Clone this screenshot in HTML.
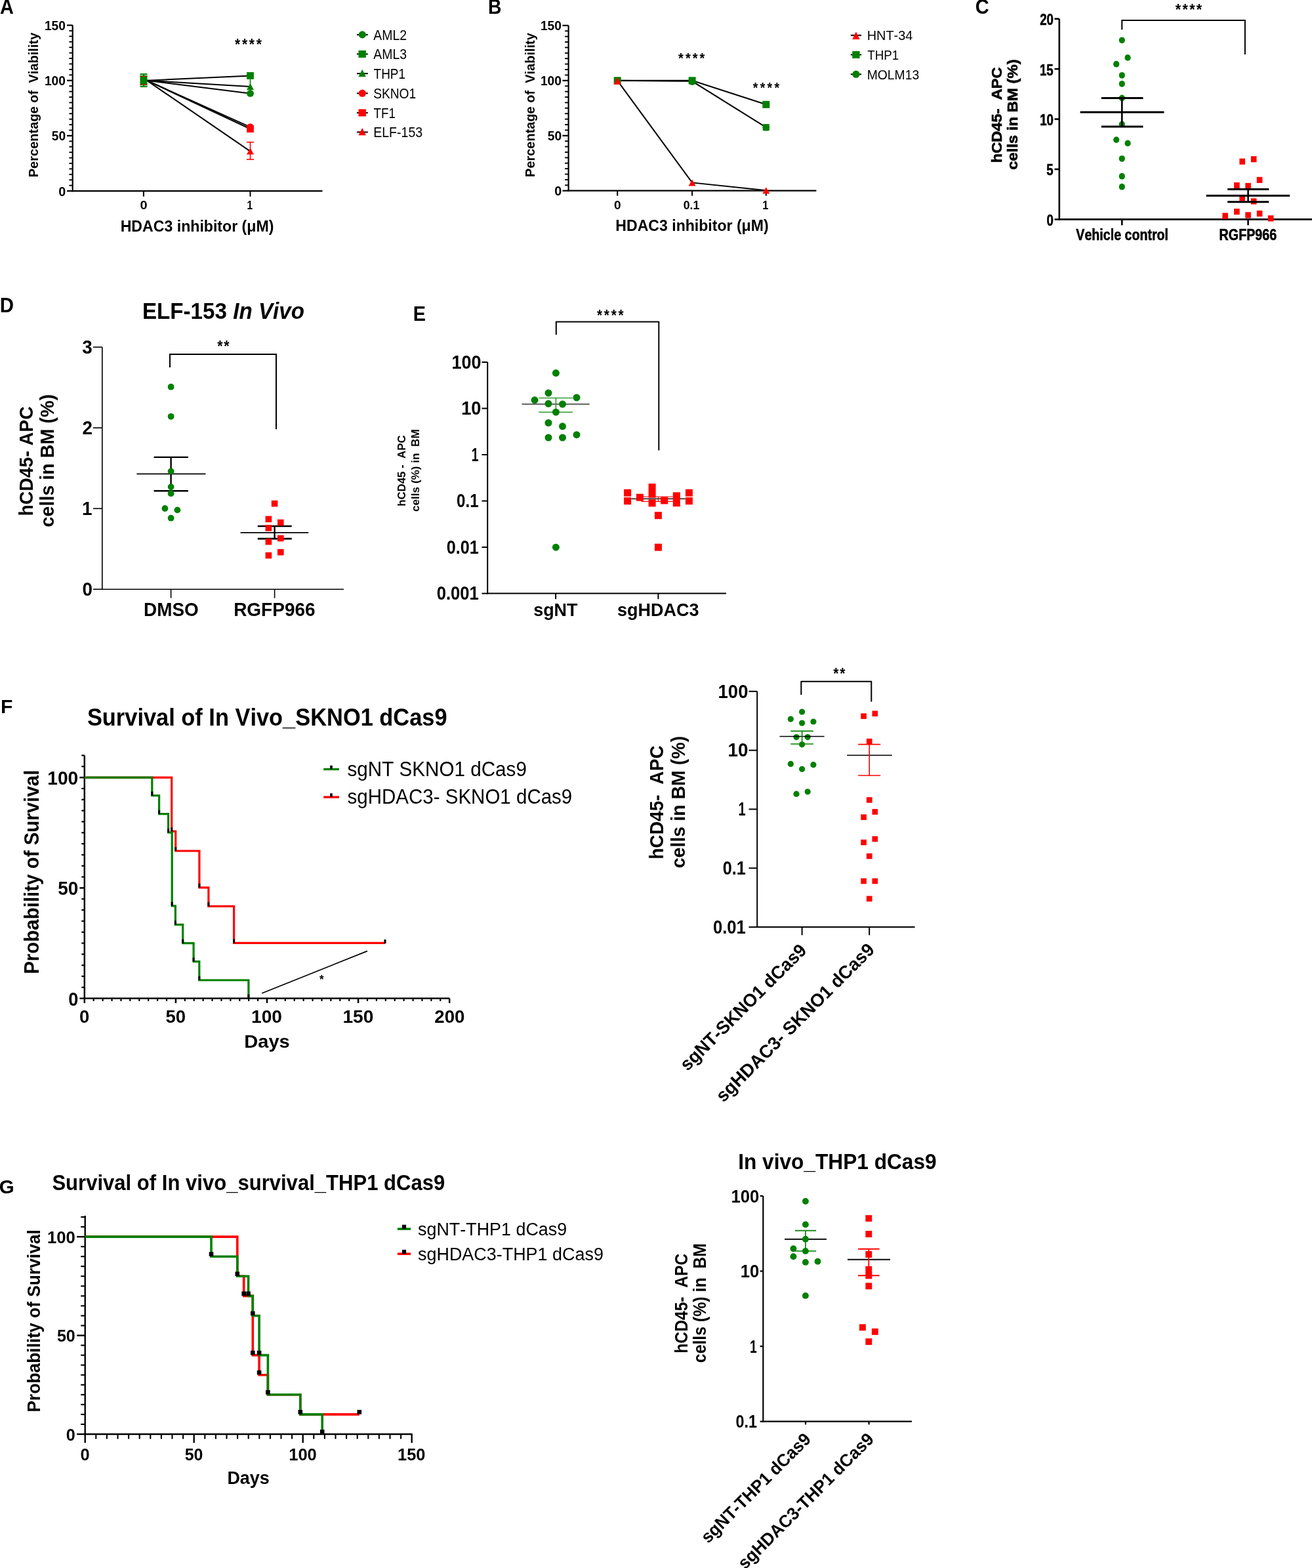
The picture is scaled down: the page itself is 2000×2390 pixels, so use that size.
<!DOCTYPE html>
<html><head><meta charset="utf-8"><title>Figure</title>
<style>html,body{margin:0;padding:0;background:#fff;}svg{display:block;}text{white-space:pre;font-family:"Liberation Sans",Arial,Helvetica,sans-serif;font-kerning:none;}</style>
</head><body>
<svg width="2000" height="2390" viewBox="0 0 2000 2390">
<rect width="2000" height="2390" fill="#fff"/>
<text x="-0.02" y="20.80" font-size="30.52" font-weight="bold" textLength="20.88" lengthAdjust="spacingAndGlyphs" fill="#000">A</text>
<line x1="110.70" y1="38.50" x2="110.70" y2="292.20" stroke="#000" stroke-width="2.2" stroke-linecap="butt"/>
<line x1="109.60" y1="291.10" x2="491.50" y2="291.10" stroke="#000" stroke-width="2.2" stroke-linecap="butt"/>
<line x1="102.00" y1="291.10" x2="110.70" y2="291.10" stroke="#000" stroke-width="2.2" stroke-linecap="butt"/>
<line x1="105.40" y1="282.68" x2="110.70" y2="282.68" stroke="#000" stroke-width="1.9" stroke-linecap="butt"/>
<line x1="105.40" y1="274.26" x2="110.70" y2="274.26" stroke="#000" stroke-width="1.9" stroke-linecap="butt"/>
<line x1="105.40" y1="265.84" x2="110.70" y2="265.84" stroke="#000" stroke-width="1.9" stroke-linecap="butt"/>
<line x1="105.40" y1="257.42" x2="110.70" y2="257.42" stroke="#000" stroke-width="1.9" stroke-linecap="butt"/>
<line x1="105.40" y1="249.00" x2="110.70" y2="249.00" stroke="#000" stroke-width="1.9" stroke-linecap="butt"/>
<line x1="105.40" y1="240.58" x2="110.70" y2="240.58" stroke="#000" stroke-width="1.9" stroke-linecap="butt"/>
<line x1="105.40" y1="232.16" x2="110.70" y2="232.16" stroke="#000" stroke-width="1.9" stroke-linecap="butt"/>
<line x1="105.40" y1="223.74" x2="110.70" y2="223.74" stroke="#000" stroke-width="1.9" stroke-linecap="butt"/>
<line x1="105.40" y1="215.32" x2="110.70" y2="215.32" stroke="#000" stroke-width="1.9" stroke-linecap="butt"/>
<line x1="102.00" y1="206.90" x2="110.70" y2="206.90" stroke="#000" stroke-width="2.2" stroke-linecap="butt"/>
<line x1="105.40" y1="198.48" x2="110.70" y2="198.48" stroke="#000" stroke-width="1.9" stroke-linecap="butt"/>
<line x1="105.40" y1="190.06" x2="110.70" y2="190.06" stroke="#000" stroke-width="1.9" stroke-linecap="butt"/>
<line x1="105.40" y1="181.64" x2="110.70" y2="181.64" stroke="#000" stroke-width="1.9" stroke-linecap="butt"/>
<line x1="105.40" y1="173.22" x2="110.70" y2="173.22" stroke="#000" stroke-width="1.9" stroke-linecap="butt"/>
<line x1="105.40" y1="164.80" x2="110.70" y2="164.80" stroke="#000" stroke-width="1.9" stroke-linecap="butt"/>
<line x1="105.40" y1="156.38" x2="110.70" y2="156.38" stroke="#000" stroke-width="1.9" stroke-linecap="butt"/>
<line x1="105.40" y1="147.96" x2="110.70" y2="147.96" stroke="#000" stroke-width="1.9" stroke-linecap="butt"/>
<line x1="105.40" y1="139.54" x2="110.70" y2="139.54" stroke="#000" stroke-width="1.9" stroke-linecap="butt"/>
<line x1="105.40" y1="131.12" x2="110.70" y2="131.12" stroke="#000" stroke-width="1.9" stroke-linecap="butt"/>
<line x1="102.00" y1="122.70" x2="110.70" y2="122.70" stroke="#000" stroke-width="2.2" stroke-linecap="butt"/>
<line x1="105.40" y1="114.28" x2="110.70" y2="114.28" stroke="#000" stroke-width="1.9" stroke-linecap="butt"/>
<line x1="105.40" y1="105.86" x2="110.70" y2="105.86" stroke="#000" stroke-width="1.9" stroke-linecap="butt"/>
<line x1="105.40" y1="97.44" x2="110.70" y2="97.44" stroke="#000" stroke-width="1.9" stroke-linecap="butt"/>
<line x1="105.40" y1="89.02" x2="110.70" y2="89.02" stroke="#000" stroke-width="1.9" stroke-linecap="butt"/>
<line x1="105.40" y1="80.60" x2="110.70" y2="80.60" stroke="#000" stroke-width="1.9" stroke-linecap="butt"/>
<line x1="105.40" y1="72.18" x2="110.70" y2="72.18" stroke="#000" stroke-width="1.9" stroke-linecap="butt"/>
<line x1="105.40" y1="63.76" x2="110.70" y2="63.76" stroke="#000" stroke-width="1.9" stroke-linecap="butt"/>
<line x1="105.40" y1="55.34" x2="110.70" y2="55.34" stroke="#000" stroke-width="1.9" stroke-linecap="butt"/>
<line x1="105.40" y1="46.92" x2="110.70" y2="46.92" stroke="#000" stroke-width="1.9" stroke-linecap="butt"/>
<line x1="102.00" y1="38.50" x2="110.70" y2="38.50" stroke="#000" stroke-width="2.2" stroke-linecap="butt"/>
<text x="89.22" y="298.60" font-size="20.49" font-weight="bold" textLength="10.99" lengthAdjust="spacingAndGlyphs" fill="#000">0</text>
<text x="78.81" y="214.40" font-size="20.49" font-weight="bold" textLength="21.38" lengthAdjust="spacingAndGlyphs" fill="#000">50</text>
<text x="67.89" y="130.20" font-size="20.49" font-weight="bold" textLength="31.99" lengthAdjust="spacingAndGlyphs" fill="#000">100</text>
<text x="67.89" y="46.00" font-size="20.49" font-weight="bold" textLength="31.99" lengthAdjust="spacingAndGlyphs" fill="#000">150</text>
<line x1="218.90" y1="291.10" x2="218.90" y2="299.60" stroke="#000" stroke-width="2" stroke-linecap="butt"/>
<line x1="381.50" y1="291.10" x2="381.50" y2="299.60" stroke="#000" stroke-width="2" stroke-linecap="butt"/>
<text x="213.41" y="319.20" font-size="18.75" font-weight="bold" textLength="11.11" lengthAdjust="spacingAndGlyphs" fill="#000">0</text>
<text x="376.43" y="319.20" font-size="18.75" font-weight="bold" textLength="8.61" lengthAdjust="spacingAndGlyphs" fill="#000">1</text>
<text x="183.65" y="353.10" font-size="24.27" font-weight="bold" textLength="233.80" lengthAdjust="spacingAndGlyphs" fill="#000">HDAC3 inhibitor (μM)</text>
<text x="-270.34" y="58.30" font-size="20.64" font-weight="bold" textLength="220.65" lengthAdjust="spacingAndGlyphs" fill="#000" transform="rotate(-90)">Percentage of  Viability</text>
<line x1="223.90" y1="122.70" x2="381.50" y2="115.40" stroke="#000" stroke-width="2" stroke-linecap="butt"/>
<line x1="223.90" y1="122.70" x2="381.50" y2="132.00" stroke="#000" stroke-width="2" stroke-linecap="butt"/>
<line x1="223.90" y1="122.70" x2="381.50" y2="142.40" stroke="#000" stroke-width="2" stroke-linecap="butt"/>
<line x1="223.90" y1="122.70" x2="381.50" y2="193.60" stroke="#000" stroke-width="2" stroke-linecap="butt"/>
<line x1="223.90" y1="122.70" x2="381.50" y2="196.50" stroke="#000" stroke-width="2" stroke-linecap="butt"/>
<line x1="223.90" y1="122.70" x2="381.50" y2="230.60" stroke="#000" stroke-width="2" stroke-linecap="butt"/>
<rect x="213.50" y="112.00" width="11.00" height="21.00" fill="#008000"/>
<line x1="213.50" y1="114.50" x2="218.10" y2="114.50" stroke="#fff" stroke-width="0.9" stroke-linecap="butt"/>
<line x1="220.10" y1="114.50" x2="224.50" y2="114.50" stroke="#fff" stroke-width="0.9" stroke-linecap="butt"/>
<line x1="213.50" y1="130.60" x2="218.10" y2="130.60" stroke="#fff" stroke-width="0.9" stroke-linecap="butt"/>
<line x1="220.10" y1="130.60" x2="224.50" y2="130.60" stroke="#fff" stroke-width="0.9" stroke-linecap="butt"/>
<line x1="213.50" y1="116.50" x2="218.10" y2="116.50" stroke="#ff0000" stroke-width="1.1" stroke-linecap="butt"/>
<line x1="220.10" y1="116.50" x2="224.50" y2="116.50" stroke="#ff0000" stroke-width="1.1" stroke-linecap="butt"/>
<line x1="213.50" y1="128.60" x2="218.10" y2="128.60" stroke="#ff0000" stroke-width="1.1" stroke-linecap="butt"/>
<line x1="220.10" y1="128.60" x2="224.50" y2="128.60" stroke="#ff0000" stroke-width="1.1" stroke-linecap="butt"/>
<line x1="381.50" y1="216.70" x2="381.50" y2="243.00" stroke="#ff0000" stroke-width="1.6" stroke-linecap="butt"/>
<line x1="376.00" y1="216.70" x2="387.00" y2="216.70" stroke="#ff0000" stroke-width="1.6" stroke-linecap="butt"/>
<line x1="376.00" y1="243.00" x2="387.00" y2="243.00" stroke="#ff0000" stroke-width="1.6" stroke-linecap="butt"/>
<line x1="381.50" y1="121.00" x2="381.50" y2="136.00" stroke="#008000" stroke-width="1.6" stroke-linecap="butt"/>
<rect x="376.10" y="110.00" width="10.80" height="10.80" fill="#008000"/>
<polygon points="376.00,137.00 387.00,137.00 381.50,127.00" fill="#008000"/>
<circle cx="381.50" cy="142.40" r="5.40" fill="#008000"/>
<circle cx="381.50" cy="193.60" r="5.40" fill="#ff0000"/>
<rect x="376.10" y="191.10" width="10.80" height="10.80" fill="#ff0000"/>
<polygon points="376.00,235.60 387.00,235.60 381.50,225.60" fill="#ff0000"/>
<text x="358.04" y="76.19" font-size="23.39" font-weight="bold" textLength="8.17" lengthAdjust="spacingAndGlyphs" fill="#000">*</text>
<text x="368.91" y="76.19" font-size="23.39" font-weight="bold" textLength="8.17" lengthAdjust="spacingAndGlyphs" fill="#000">*</text>
<text x="379.78" y="76.19" font-size="23.39" font-weight="bold" textLength="8.17" lengthAdjust="spacingAndGlyphs" fill="#000">*</text>
<text x="390.65" y="76.19" font-size="23.39" font-weight="bold" textLength="8.17" lengthAdjust="spacingAndGlyphs" fill="#000">*</text>
<line x1="544.00" y1="52.90" x2="560.80" y2="52.90" stroke="#000" stroke-width="2" stroke-linecap="butt"/>
<circle cx="552.30" cy="52.90" r="5.60" fill="#008000"/>
<text x="569.36" y="60.70" font-size="21.51" textLength="50.82" lengthAdjust="spacingAndGlyphs" fill="#000">AML2</text>
<line x1="544.00" y1="82.40" x2="560.80" y2="82.40" stroke="#000" stroke-width="2" stroke-linecap="butt"/>
<rect x="546.50" y="76.90" width="11.40" height="11.00" fill="#008000"/>
<text x="569.36" y="90.20" font-size="21.51" textLength="50.69" lengthAdjust="spacingAndGlyphs" fill="#000">AML3</text>
<line x1="544.00" y1="112.10" x2="560.80" y2="112.10" stroke="#000" stroke-width="2" stroke-linecap="butt"/>
<polygon points="546.50,116.90 557.90,116.90 552.20,105.70" fill="#008000"/>
<text x="569.57" y="119.90" font-size="21.51" textLength="48.45" lengthAdjust="spacingAndGlyphs" fill="#000">THP1</text>
<line x1="544.00" y1="142.20" x2="560.80" y2="142.20" stroke="#000" stroke-width="2" stroke-linecap="butt"/>
<circle cx="552.30" cy="142.20" r="5.60" fill="#ff0000"/>
<text x="569.13" y="150.00" font-size="21.51" textLength="65.11" lengthAdjust="spacingAndGlyphs" fill="#000">SKNO1</text>
<line x1="544.00" y1="171.90" x2="560.80" y2="171.90" stroke="#000" stroke-width="2" stroke-linecap="butt"/>
<rect x="546.50" y="166.40" width="11.40" height="11.00" fill="#ff0000"/>
<text x="569.58" y="179.70" font-size="21.51" textLength="33.23" lengthAdjust="spacingAndGlyphs" fill="#000">TF1</text>
<line x1="544.00" y1="201.40" x2="560.80" y2="201.40" stroke="#000" stroke-width="2" stroke-linecap="butt"/>
<polygon points="546.50,206.20 557.90,206.20 552.20,195.00" fill="#ff0000"/>
<text x="569.20" y="209.20" font-size="21.51" textLength="74.96" lengthAdjust="spacingAndGlyphs" fill="#000">ELF-153</text>
<text x="743.90" y="21.00" font-size="30.52" font-weight="bold" textLength="20.49" lengthAdjust="spacingAndGlyphs" fill="#000">B</text>
<line x1="866.60" y1="38.85" x2="866.60" y2="291.80" stroke="#000" stroke-width="2.2" stroke-linecap="butt"/>
<line x1="865.50" y1="290.70" x2="1244.40" y2="290.70" stroke="#000" stroke-width="2.2" stroke-linecap="butt"/>
<line x1="857.40" y1="290.70" x2="866.60" y2="290.70" stroke="#000" stroke-width="2.2" stroke-linecap="butt"/>
<line x1="861.10" y1="282.31" x2="866.60" y2="282.31" stroke="#000" stroke-width="1.9" stroke-linecap="butt"/>
<line x1="861.10" y1="273.91" x2="866.60" y2="273.91" stroke="#000" stroke-width="1.9" stroke-linecap="butt"/>
<line x1="861.10" y1="265.51" x2="866.60" y2="265.51" stroke="#000" stroke-width="1.9" stroke-linecap="butt"/>
<line x1="861.10" y1="257.12" x2="866.60" y2="257.12" stroke="#000" stroke-width="1.9" stroke-linecap="butt"/>
<line x1="861.10" y1="248.72" x2="866.60" y2="248.72" stroke="#000" stroke-width="1.9" stroke-linecap="butt"/>
<line x1="861.10" y1="240.33" x2="866.60" y2="240.33" stroke="#000" stroke-width="1.9" stroke-linecap="butt"/>
<line x1="861.10" y1="231.94" x2="866.60" y2="231.94" stroke="#000" stroke-width="1.9" stroke-linecap="butt"/>
<line x1="861.10" y1="223.54" x2="866.60" y2="223.54" stroke="#000" stroke-width="1.9" stroke-linecap="butt"/>
<line x1="861.10" y1="215.14" x2="866.60" y2="215.14" stroke="#000" stroke-width="1.9" stroke-linecap="butt"/>
<line x1="857.40" y1="206.75" x2="866.60" y2="206.75" stroke="#000" stroke-width="2.2" stroke-linecap="butt"/>
<line x1="861.10" y1="198.35" x2="866.60" y2="198.35" stroke="#000" stroke-width="1.9" stroke-linecap="butt"/>
<line x1="861.10" y1="189.96" x2="866.60" y2="189.96" stroke="#000" stroke-width="1.9" stroke-linecap="butt"/>
<line x1="861.10" y1="181.56" x2="866.60" y2="181.56" stroke="#000" stroke-width="1.9" stroke-linecap="butt"/>
<line x1="861.10" y1="173.17" x2="866.60" y2="173.17" stroke="#000" stroke-width="1.9" stroke-linecap="butt"/>
<line x1="861.10" y1="164.77" x2="866.60" y2="164.77" stroke="#000" stroke-width="1.9" stroke-linecap="butt"/>
<line x1="861.10" y1="156.38" x2="866.60" y2="156.38" stroke="#000" stroke-width="1.9" stroke-linecap="butt"/>
<line x1="861.10" y1="147.98" x2="866.60" y2="147.98" stroke="#000" stroke-width="1.9" stroke-linecap="butt"/>
<line x1="861.10" y1="139.59" x2="866.60" y2="139.59" stroke="#000" stroke-width="1.9" stroke-linecap="butt"/>
<line x1="861.10" y1="131.19" x2="866.60" y2="131.19" stroke="#000" stroke-width="1.9" stroke-linecap="butt"/>
<line x1="857.40" y1="122.80" x2="866.60" y2="122.80" stroke="#000" stroke-width="2.2" stroke-linecap="butt"/>
<line x1="861.10" y1="114.40" x2="866.60" y2="114.40" stroke="#000" stroke-width="1.9" stroke-linecap="butt"/>
<line x1="861.10" y1="106.01" x2="866.60" y2="106.01" stroke="#000" stroke-width="1.9" stroke-linecap="butt"/>
<line x1="861.10" y1="97.61" x2="866.60" y2="97.61" stroke="#000" stroke-width="1.9" stroke-linecap="butt"/>
<line x1="861.10" y1="89.22" x2="866.60" y2="89.22" stroke="#000" stroke-width="1.9" stroke-linecap="butt"/>
<line x1="861.10" y1="80.82" x2="866.60" y2="80.82" stroke="#000" stroke-width="1.9" stroke-linecap="butt"/>
<line x1="861.10" y1="72.43" x2="866.60" y2="72.43" stroke="#000" stroke-width="1.9" stroke-linecap="butt"/>
<line x1="861.10" y1="64.03" x2="866.60" y2="64.03" stroke="#000" stroke-width="1.9" stroke-linecap="butt"/>
<line x1="861.10" y1="55.64" x2="866.60" y2="55.64" stroke="#000" stroke-width="1.9" stroke-linecap="butt"/>
<line x1="861.10" y1="47.24" x2="866.60" y2="47.24" stroke="#000" stroke-width="1.9" stroke-linecap="butt"/>
<line x1="857.40" y1="38.85" x2="866.60" y2="38.85" stroke="#000" stroke-width="2.2" stroke-linecap="butt"/>
<text x="845.22" y="298.00" font-size="20.35" font-weight="bold" textLength="10.99" lengthAdjust="spacingAndGlyphs" fill="#000">0</text>
<text x="834.81" y="214.05" font-size="20.35" font-weight="bold" textLength="21.38" lengthAdjust="spacingAndGlyphs" fill="#000">50</text>
<text x="823.89" y="130.10" font-size="20.35" font-weight="bold" textLength="31.99" lengthAdjust="spacingAndGlyphs" fill="#000">100</text>
<text x="823.89" y="46.15" font-size="20.35" font-weight="bold" textLength="31.99" lengthAdjust="spacingAndGlyphs" fill="#000">150</text>
<line x1="941.20" y1="290.70" x2="941.20" y2="298.50" stroke="#000" stroke-width="2" stroke-linecap="butt"/>
<line x1="1055.10" y1="290.70" x2="1055.10" y2="298.50" stroke="#000" stroke-width="2" stroke-linecap="butt"/>
<line x1="1167.80" y1="290.70" x2="1167.80" y2="298.50" stroke="#000" stroke-width="2" stroke-linecap="butt"/>
<text x="935.94" y="318.50" font-size="19.04" font-weight="bold" textLength="10.64" lengthAdjust="spacingAndGlyphs" fill="#000">0</text>
<text x="1041.70" y="318.50" font-size="19.04" font-weight="bold" textLength="24.59" lengthAdjust="spacingAndGlyphs" fill="#000">0.1</text>
<text x="1162.26" y="318.50" font-size="19.04" font-weight="bold" textLength="9.20" lengthAdjust="spacingAndGlyphs" fill="#000">1</text>
<text x="938.36" y="351.80" font-size="23.84" font-weight="bold" textLength="233.29" lengthAdjust="spacingAndGlyphs" fill="#000">HDAC3 inhibitor (μM)</text>
<text x="-269.94" y="815.40" font-size="20.78" font-weight="bold" textLength="219.74" lengthAdjust="spacingAndGlyphs" fill="#000" transform="rotate(-90)">Percentage of  Viability</text>
<path d="M941.2,122.79999999999998 L1055.1,122.79999999999998 L1167.8,159.3" stroke="#000" stroke-width="2" fill="none" stroke-linejoin="miter" stroke-linecap="butt"/>
<path d="M941.2,122.79999999999998 L1055.1,123.79999999999998 L1167.8,194.2" stroke="#000" stroke-width="2" fill="none" stroke-linejoin="miter" stroke-linecap="butt"/>
<path d="M941.2,122.79999999999998 L1055.1,278.4 L1167.8,290.3" stroke="#000" stroke-width="2" fill="none" stroke-linejoin="miter" stroke-linecap="butt"/>
<rect x="935.70" y="117.30" width="11.00" height="11.00" fill="#008000"/>
<polygon points="935.70,128.70 946.70,128.70 941.20,117.50" fill="#ff0000"/>
<rect x="1049.60" y="117.30" width="11.00" height="11.00" fill="#008000"/>
<circle cx="1055.10" cy="124.30" r="5.50" fill="#008000"/>
<polygon points="1049.60,283.40 1060.60,283.40 1055.10,273.40" fill="#ff0000"/>
<rect x="1162.30" y="153.80" width="11.00" height="11.00" fill="#008000"/>
<rect x="1162.80" y="189.20" width="10.00" height="10.00" fill="#008000"/>
<circle cx="1167.80" cy="194.20" r="5.30" fill="#008000"/>
<polygon points="1162.30,295.30 1173.30,295.30 1167.80,285.30" fill="#ff0000"/>
<text x="1034.04" y="96.15" font-size="22.31" font-weight="bold" textLength="7.80" lengthAdjust="spacingAndGlyphs" fill="#000">*</text>
<text x="1044.90" y="96.15" font-size="22.31" font-weight="bold" textLength="7.80" lengthAdjust="spacingAndGlyphs" fill="#000">*</text>
<text x="1055.76" y="96.15" font-size="22.31" font-weight="bold" textLength="7.80" lengthAdjust="spacingAndGlyphs" fill="#000">*</text>
<text x="1066.62" y="96.15" font-size="22.31" font-weight="bold" textLength="7.80" lengthAdjust="spacingAndGlyphs" fill="#000">*</text>
<text x="1147.84" y="140.78" font-size="21.77" font-weight="bold" textLength="7.61" lengthAdjust="spacingAndGlyphs" fill="#000">*</text>
<text x="1158.70" y="140.78" font-size="21.77" font-weight="bold" textLength="7.61" lengthAdjust="spacingAndGlyphs" fill="#000">*</text>
<text x="1169.55" y="140.78" font-size="21.77" font-weight="bold" textLength="7.61" lengthAdjust="spacingAndGlyphs" fill="#000">*</text>
<text x="1180.41" y="140.78" font-size="21.77" font-weight="bold" textLength="7.61" lengthAdjust="spacingAndGlyphs" fill="#000">*</text>
<line x1="1296.80" y1="53.80" x2="1313.10" y2="53.80" stroke="#000" stroke-width="2" stroke-linecap="butt"/>
<polygon points="1299.25,59.90 1310.55,59.90 1304.90,48.30" fill="#ff0000"/>
<text x="1321.67" y="61.20" font-size="21.08" textLength="69.72" lengthAdjust="spacingAndGlyphs" fill="#000">HNT-34</text>
<line x1="1296.80" y1="83.40" x2="1313.10" y2="83.40" stroke="#000" stroke-width="2" stroke-linecap="butt"/>
<rect x="1299.25" y="77.90" width="11.30" height="11.00" fill="#008000"/>
<text x="1322.18" y="90.80" font-size="21.08" textLength="47.94" lengthAdjust="spacingAndGlyphs" fill="#000">THP1</text>
<line x1="1296.80" y1="113.20" x2="1313.10" y2="113.20" stroke="#000" stroke-width="2" stroke-linecap="butt"/>
<circle cx="1304.90" cy="113.20" r="5.60" fill="#008000"/>
<text x="1321.72" y="120.60" font-size="21.08" textLength="79.43" lengthAdjust="spacingAndGlyphs" fill="#000">MOLM13</text>
<text x="1486.81" y="21.30" font-size="30.96" font-weight="bold" textLength="20.99" lengthAdjust="spacingAndGlyphs" fill="#000">C</text>
<line x1="1614.80" y1="28.70" x2="1614.80" y2="335.60" stroke="#000" stroke-width="2.6" stroke-linecap="butt"/>
<line x1="1613.60" y1="334.40" x2="2000.00" y2="334.40" stroke="#000" stroke-width="2.6" stroke-linecap="butt"/>
<line x1="1607.50" y1="334.40" x2="1614.80" y2="334.40" stroke="#000" stroke-width="2.6" stroke-linecap="butt"/>
<line x1="1607.50" y1="257.97" x2="1614.80" y2="257.97" stroke="#000" stroke-width="2.6" stroke-linecap="butt"/>
<line x1="1607.50" y1="181.55" x2="1614.80" y2="181.55" stroke="#000" stroke-width="2.6" stroke-linecap="butt"/>
<line x1="1607.50" y1="105.12" x2="1614.80" y2="105.12" stroke="#000" stroke-width="2.6" stroke-linecap="butt"/>
<line x1="1607.50" y1="28.70" x2="1614.80" y2="28.70" stroke="#000" stroke-width="2.6" stroke-linecap="butt"/>
<text x="1595.56" y="343.80" font-size="23.98" font-weight="bold" textLength="10.40" lengthAdjust="spacingAndGlyphs" fill="#000" stroke="#000" stroke-width="0.6">0</text>
<text x="1595.32" y="267.37" font-size="23.98" font-weight="bold" textLength="10.40" lengthAdjust="spacingAndGlyphs" fill="#000" stroke="#000" stroke-width="0.6">5</text>
<text x="1585.16" y="190.95" font-size="23.98" font-weight="bold" textLength="20.81" lengthAdjust="spacingAndGlyphs" fill="#000" stroke="#000" stroke-width="0.6">10</text>
<text x="1584.91" y="114.52" font-size="23.98" font-weight="bold" textLength="20.81" lengthAdjust="spacingAndGlyphs" fill="#000" stroke="#000" stroke-width="0.6">15</text>
<text x="1585.16" y="38.10" font-size="23.98" font-weight="bold" textLength="20.81" lengthAdjust="spacingAndGlyphs" fill="#000" stroke="#000" stroke-width="0.6">20</text>
<line x1="1710.30" y1="334.40" x2="1710.30" y2="343.30" stroke="#000" stroke-width="2.6" stroke-linecap="butt"/>
<line x1="1902.60" y1="334.40" x2="1902.60" y2="343.30" stroke="#000" stroke-width="2.6" stroke-linecap="butt"/>
<text x="1640.37" y="366.00" font-size="24.56" font-weight="bold" textLength="140.62" lengthAdjust="spacingAndGlyphs" fill="#000" stroke="#000" stroke-width="0.6">Vehicle control</text>
<text x="1858.58" y="366.00" font-size="24.56" font-weight="bold" textLength="87.63" lengthAdjust="spacingAndGlyphs" fill="#000" stroke="#000" stroke-width="0.6">RGFP966</text>
<text x="-248.25" y="1527.00" font-size="22.09" font-weight="bold" textLength="145.90" lengthAdjust="spacingAndGlyphs" fill="#000" transform="rotate(-90)" stroke="#000" stroke-width="0.6">hCD45-  APC</text>
<text x="-258.73" y="1551.00" font-size="22.09" font-weight="bold" textLength="168.32" lengthAdjust="spacingAndGlyphs" fill="#000" transform="rotate(-90)" stroke="#000" stroke-width="0.6">cells in BM (%)</text>
<path d="M1710.3,45.3 V30.9 H1897.9 V82.9" stroke="#000" stroke-width="2" fill="none" stroke-linejoin="miter" stroke-linecap="butt"/>
<text x="1791.74" y="22.66" font-size="23.92" font-weight="bold" textLength="8.36" lengthAdjust="spacingAndGlyphs" fill="#000">*</text>
<text x="1802.44" y="22.66" font-size="23.92" font-weight="bold" textLength="8.36" lengthAdjust="spacingAndGlyphs" fill="#000">*</text>
<text x="1813.15" y="22.66" font-size="23.92" font-weight="bold" textLength="8.36" lengthAdjust="spacingAndGlyphs" fill="#000">*</text>
<text x="1823.86" y="22.66" font-size="23.92" font-weight="bold" textLength="8.36" lengthAdjust="spacingAndGlyphs" fill="#000">*</text>
<ellipse cx="1710.30" cy="61.30" rx="4.60" ry="4.90" fill="#008000"/>
<ellipse cx="1719.10" cy="87.90" rx="4.60" ry="4.90" fill="#008000"/>
<ellipse cx="1701.70" cy="97.70" rx="4.60" ry="4.90" fill="#008000"/>
<ellipse cx="1710.30" cy="114.80" rx="4.60" ry="4.90" fill="#008000"/>
<ellipse cx="1710.30" cy="127.80" rx="4.60" ry="4.90" fill="#008000"/>
<ellipse cx="1710.30" cy="149.50" rx="4.60" ry="4.90" fill="#008000"/>
<ellipse cx="1710.30" cy="189.40" rx="4.60" ry="4.90" fill="#008000"/>
<ellipse cx="1701.70" cy="213.10" rx="4.60" ry="4.90" fill="#008000"/>
<ellipse cx="1719.10" cy="218.40" rx="4.60" ry="4.90" fill="#008000"/>
<ellipse cx="1710.30" cy="241.80" rx="4.60" ry="4.90" fill="#008000"/>
<ellipse cx="1710.30" cy="268.70" rx="4.60" ry="4.90" fill="#008000"/>
<ellipse cx="1710.30" cy="284.70" rx="4.60" ry="4.90" fill="#008000"/>
<rect x="1889.40" y="241.60" width="8.60" height="9.20" fill="#ff0000"/>
<rect x="1906.90" y="238.10" width="8.60" height="9.20" fill="#ff0000"/>
<rect x="1915.80" y="269.70" width="8.60" height="9.20" fill="#ff0000"/>
<rect x="1881.10" y="278.00" width="8.60" height="9.20" fill="#ff0000"/>
<rect x="1898.30" y="278.90" width="8.60" height="9.20" fill="#ff0000"/>
<rect x="1889.40" y="297.30" width="8.60" height="9.20" fill="#ff0000"/>
<rect x="1906.90" y="302.30" width="8.60" height="9.20" fill="#ff0000"/>
<rect x="1881.10" y="318.00" width="8.60" height="9.20" fill="#ff0000"/>
<rect x="1863.40" y="324.50" width="8.60" height="9.20" fill="#ff0000"/>
<rect x="1898.30" y="323.30" width="8.60" height="9.20" fill="#ff0000"/>
<rect x="1915.80" y="320.90" width="8.60" height="9.20" fill="#ff0000"/>
<rect x="1932.90" y="328.30" width="8.60" height="9.20" fill="#ff0000"/>
<line x1="1646.60" y1="171.00" x2="1774.50" y2="171.00" stroke="#000" stroke-width="3" stroke-linecap="butt"/>
<line x1="1678.90" y1="149.50" x2="1742.50" y2="149.50" stroke="#000" stroke-width="3" stroke-linecap="butt"/>
<line x1="1678.90" y1="193.00" x2="1742.50" y2="193.00" stroke="#000" stroke-width="3" stroke-linecap="butt"/>
<line x1="1710.30" y1="149.50" x2="1710.30" y2="193.00" stroke="#000" stroke-width="2.6" stroke-linecap="butt"/>
<line x1="1838.70" y1="298.30" x2="1966.20" y2="298.30" stroke="#000" stroke-width="3" stroke-linecap="butt"/>
<line x1="1871.20" y1="288.50" x2="1934.30" y2="288.50" stroke="#000" stroke-width="3" stroke-linecap="butt"/>
<line x1="1871.20" y1="307.80" x2="1934.30" y2="307.80" stroke="#000" stroke-width="3" stroke-linecap="butt"/>
<line x1="1902.60" y1="288.50" x2="1902.60" y2="307.80" stroke="#000" stroke-width="2.6" stroke-linecap="butt"/>
<text x="-0.27" y="475.90" font-size="30.96" font-weight="bold" textLength="21.31" lengthAdjust="spacingAndGlyphs" fill="#000">D</text>
<text x="216.88" y="486.3" font-size="34.74" font-weight="bold" fill="#000" textLength="247.09" lengthAdjust="spacingAndGlyphs">ELF-153 <tspan font-style="italic">In Vivo</tspan></text>
<line x1="155.80" y1="529.10" x2="155.80" y2="899.00" stroke="#000" stroke-width="1.6" stroke-linecap="butt"/>
<line x1="155.00" y1="898.20" x2="524.00" y2="898.20" stroke="#000" stroke-width="1.6" stroke-linecap="butt"/>
<line x1="142.00" y1="898.20" x2="155.80" y2="898.20" stroke="#000" stroke-width="1.6" stroke-linecap="butt"/>
<text x="125.42" y="908.40" font-size="29.07" font-weight="bold" textLength="15.52" lengthAdjust="spacingAndGlyphs" fill="#000">0</text>
<line x1="142.00" y1="775.17" x2="155.80" y2="775.17" stroke="#000" stroke-width="1.6" stroke-linecap="butt"/>
<text x="125.06" y="785.37" font-size="29.07" font-weight="bold" textLength="15.52" lengthAdjust="spacingAndGlyphs" fill="#000">1</text>
<line x1="142.00" y1="652.13" x2="155.80" y2="652.13" stroke="#000" stroke-width="1.6" stroke-linecap="butt"/>
<text x="125.40" y="662.33" font-size="29.07" font-weight="bold" textLength="15.52" lengthAdjust="spacingAndGlyphs" fill="#000">2</text>
<line x1="142.00" y1="529.10" x2="155.80" y2="529.10" stroke="#000" stroke-width="1.6" stroke-linecap="butt"/>
<text x="125.29" y="539.30" font-size="29.07" font-weight="bold" textLength="15.52" lengthAdjust="spacingAndGlyphs" fill="#000">3</text>
<line x1="260.60" y1="898.20" x2="260.60" y2="911.70" stroke="#000" stroke-width="1.6" stroke-linecap="butt"/>
<line x1="418.60" y1="898.20" x2="418.60" y2="911.70" stroke="#000" stroke-width="1.6" stroke-linecap="butt"/>
<text x="219.03" y="939.00" font-size="29.80" font-weight="bold" textLength="83.74" lengthAdjust="spacingAndGlyphs" fill="#000">DMSO</text>
<text x="356.13" y="939.00" font-size="29.80" font-weight="bold" textLength="124.48" lengthAdjust="spacingAndGlyphs" fill="#000">RGFP966</text>
<text x="-786.58" y="49.50" font-size="29.22" font-weight="bold" textLength="167.36" lengthAdjust="spacingAndGlyphs" fill="#000" transform="rotate(-90)">hCD45- APC</text>
<text x="-803.52" y="82.30" font-size="29.22" font-weight="bold" textLength="202.65" lengthAdjust="spacingAndGlyphs" fill="#000" transform="rotate(-90)">cells in BM (%)</text>
<path d="M259,559.9 V539.9 H421 V654.2" stroke="#000" stroke-width="2" fill="none" stroke-linejoin="miter" stroke-linecap="butt"/>
<text x="331.24" y="535.66" font-size="23.92" font-weight="bold" textLength="8.36" lengthAdjust="spacingAndGlyphs" fill="#000">*</text>
<text x="341.36" y="535.66" font-size="23.92" font-weight="bold" textLength="8.36" lengthAdjust="spacingAndGlyphs" fill="#000">*</text>
<line x1="208.40" y1="722.40" x2="313.50" y2="722.40" stroke="#000" stroke-width="1.6" stroke-linecap="butt"/>
<line x1="234.60" y1="696.90" x2="286.90" y2="696.90" stroke="#000" stroke-width="2.4" stroke-linecap="butt"/>
<line x1="234.60" y1="748.20" x2="286.90" y2="748.20" stroke="#000" stroke-width="2.4" stroke-linecap="butt"/>
<line x1="260.60" y1="696.90" x2="260.60" y2="748.20" stroke="#000" stroke-width="2.4" stroke-linecap="butt"/>
<line x1="366.60" y1="811.90" x2="470.20" y2="811.90" stroke="#000" stroke-width="1.6" stroke-linecap="butt"/>
<line x1="392.80" y1="802.00" x2="444.70" y2="802.00" stroke="#000" stroke-width="2.6" stroke-linecap="butt"/>
<line x1="392.80" y1="821.10" x2="444.70" y2="821.10" stroke="#000" stroke-width="2.6" stroke-linecap="butt"/>
<line x1="418.60" y1="802.00" x2="418.60" y2="821.10" stroke="#000" stroke-width="2.4" stroke-linecap="butt"/>
<circle cx="260.60" cy="589.70" r="4.90" fill="#008000"/>
<circle cx="260.60" cy="634.80" r="4.90" fill="#008000"/>
<circle cx="260.60" cy="718.40" r="4.90" fill="#008000"/>
<circle cx="260.60" cy="742.10" r="4.90" fill="#008000"/>
<circle cx="260.60" cy="752.20" r="4.90" fill="#008000"/>
<circle cx="251.40" cy="775.00" r="4.90" fill="#008000"/>
<circle cx="270.40" cy="777.40" r="4.90" fill="#008000"/>
<circle cx="260.60" cy="789.70" r="4.90" fill="#008000"/>
<rect x="413.80" y="762.80" width="9.60" height="9.60" fill="#ff0000"/>
<rect x="404.60" y="786.50" width="9.60" height="9.60" fill="#ff0000"/>
<rect x="423.00" y="791.70" width="9.60" height="9.60" fill="#ff0000"/>
<rect x="404.60" y="800.00" width="9.60" height="9.60" fill="#ff0000"/>
<rect x="423.00" y="815.70" width="9.60" height="9.60" fill="#ff0000"/>
<rect x="404.60" y="820.90" width="9.60" height="9.60" fill="#ff0000"/>
<rect x="423.00" y="836.90" width="9.60" height="9.60" fill="#ff0000"/>
<rect x="404.60" y="841.80" width="9.60" height="9.60" fill="#ff0000"/>
<text x="629.87" y="488.80" font-size="30.52" font-weight="bold" textLength="19.26" lengthAdjust="spacingAndGlyphs" fill="#000">E</text>
<line x1="743.20" y1="552.00" x2="743.20" y2="905.60" stroke="#000" stroke-width="2" stroke-linecap="butt"/>
<line x1="742.20" y1="904.60" x2="1107.00" y2="904.60" stroke="#000" stroke-width="2" stroke-linecap="butt"/>
<line x1="734.50" y1="552.00" x2="743.20" y2="552.00" stroke="#000" stroke-width="2" stroke-linecap="butt"/>
<text x="688.40" y="561.80" font-size="28.92" font-weight="bold" textLength="45.11" lengthAdjust="spacingAndGlyphs" fill="#000">100</text>
<line x1="734.50" y1="622.52" x2="743.20" y2="622.52" stroke="#000" stroke-width="2" stroke-linecap="butt"/>
<text x="703.19" y="632.32" font-size="28.92" font-weight="bold" textLength="30.23" lengthAdjust="spacingAndGlyphs" fill="#000">10</text>
<line x1="734.50" y1="693.04" x2="743.20" y2="693.04" stroke="#000" stroke-width="2" stroke-linecap="butt"/>
<text x="718.68" y="702.84" font-size="28.92" font-weight="bold" textLength="10.76" lengthAdjust="spacingAndGlyphs" fill="#000">1</text>
<line x1="734.50" y1="763.56" x2="743.20" y2="763.56" stroke="#000" stroke-width="2" stroke-linecap="butt"/>
<text x="696.05" y="773.36" font-size="28.92" font-weight="bold" textLength="33.53" lengthAdjust="spacingAndGlyphs" fill="#000">0.1</text>
<line x1="734.50" y1="834.08" x2="743.20" y2="834.08" stroke="#000" stroke-width="2" stroke-linecap="butt"/>
<text x="680.80" y="843.88" font-size="28.92" font-weight="bold" textLength="49.10" lengthAdjust="spacingAndGlyphs" fill="#000">0.01</text>
<line x1="734.50" y1="904.60" x2="743.20" y2="904.60" stroke="#000" stroke-width="2" stroke-linecap="butt"/>
<text x="665.68" y="914.40" font-size="28.92" font-weight="bold" textLength="64.23" lengthAdjust="spacingAndGlyphs" fill="#000">0.001</text>
<line x1="847.10" y1="904.60" x2="847.10" y2="913.20" stroke="#000" stroke-width="2" stroke-linecap="butt"/>
<line x1="1003.40" y1="904.60" x2="1003.40" y2="913.20" stroke="#000" stroke-width="2" stroke-linecap="butt"/>
<text x="813.15" y="938.80" font-size="28.34" font-weight="bold" textLength="67.44" lengthAdjust="spacingAndGlyphs" fill="#000">sgNT</text>
<text x="941.05" y="938.80" font-size="28.34" font-weight="bold" textLength="124.52" lengthAdjust="spacingAndGlyphs" fill="#000">sgHDAC3</text>
<text x="-771.87" y="618.20" font-size="17.30" font-weight="bold" textLength="108.43" lengthAdjust="spacingAndGlyphs" fill="#000" transform="rotate(-90)">hCD45 -  APC</text>
<text x="-779.97" y="638.90" font-size="17.30" font-weight="bold" textLength="125.72" lengthAdjust="spacingAndGlyphs" fill="#000" transform="rotate(-90)">cells (%) in  BM</text>
<path d="M847.8,510.2 V490.4 H1004.3 V686.6" stroke="#000" stroke-width="2" fill="none" stroke-linejoin="round" stroke-linecap="butt"/>
<text x="909.94" y="488.71" font-size="23.12" font-weight="bold" textLength="8.08" lengthAdjust="spacingAndGlyphs" fill="#000">*</text>
<text x="920.81" y="488.71" font-size="23.12" font-weight="bold" textLength="8.08" lengthAdjust="spacingAndGlyphs" fill="#000">*</text>
<text x="931.67" y="488.71" font-size="23.12" font-weight="bold" textLength="8.08" lengthAdjust="spacingAndGlyphs" fill="#000">*</text>
<text x="942.54" y="488.71" font-size="23.12" font-weight="bold" textLength="8.08" lengthAdjust="spacingAndGlyphs" fill="#000">*</text>
<line x1="795.50" y1="616.00" x2="898.70" y2="616.00" stroke="#666" stroke-width="2.2" stroke-linecap="butt"/>
<line x1="821.30" y1="606.70" x2="872.90" y2="606.70" stroke="#6cb86c" stroke-width="2.2" stroke-linecap="butt"/>
<line x1="821.30" y1="628.20" x2="872.90" y2="628.20" stroke="#2a9a2a" stroke-width="1.6" stroke-linecap="butt"/>
<line x1="847.40" y1="606.70" x2="847.40" y2="628.20" stroke="#2a9a2a" stroke-width="1.6" stroke-linecap="butt"/>
<circle cx="847.40" cy="568.60" r="5.50" fill="#008000"/>
<circle cx="836.00" cy="599.00" r="5.50" fill="#008000"/>
<circle cx="815.10" cy="609.80" r="5.50" fill="#008000"/>
<circle cx="879.00" cy="606.10" r="5.50" fill="#008000"/>
<circle cx="836.00" cy="615.30" r="5.50" fill="#008000"/>
<circle cx="857.50" cy="616.00" r="5.50" fill="#008000"/>
<circle cx="847.40" cy="628.20" r="5.50" fill="#008000"/>
<circle cx="836.00" cy="644.50" r="5.50" fill="#008000"/>
<circle cx="857.50" cy="649.80" r="5.50" fill="#008000"/>
<circle cx="879.00" cy="662.70" r="5.50" fill="#008000"/>
<circle cx="836.00" cy="667.00" r="5.50" fill="#008000"/>
<circle cx="857.50" cy="667.00" r="5.50" fill="#008000"/>
<circle cx="847.40" cy="834.20" r="5.50" fill="#008000"/>
<line x1="962.20" y1="760.30" x2="1044.70" y2="760.30" stroke="#444" stroke-width="2" stroke-linecap="butt"/>
<rect x="951.10" y="745.70" width="11.00" height="11.00" fill="#ff0000"/>
<rect x="951.10" y="758.10" width="11.00" height="11.00" fill="#ff0000"/>
<rect x="969.90" y="752.70" width="11.00" height="11.00" fill="#ff0000"/>
<rect x="988.60" y="737.10" width="11.00" height="11.00" fill="#ff0000"/>
<rect x="988.60" y="747.70" width="11.00" height="11.00" fill="#ff0000"/>
<rect x="988.60" y="761.30" width="11.00" height="11.00" fill="#ff0000"/>
<rect x="1007.20" y="757.40" width="11.00" height="11.00" fill="#ff0000"/>
<rect x="1025.80" y="750.30" width="11.00" height="11.00" fill="#ff0000"/>
<rect x="1025.80" y="761.10" width="11.00" height="11.00" fill="#ff0000"/>
<rect x="1044.90" y="745.70" width="11.00" height="11.00" fill="#ff0000"/>
<rect x="1044.90" y="758.10" width="11.00" height="11.00" fill="#ff0000"/>
<rect x="997.90" y="780.20" width="11.00" height="11.00" fill="#ff0000"/>
<rect x="997.90" y="828.70" width="11.00" height="11.00" fill="#ff0000"/>
<line x1="977.40" y1="757.00" x2="1025.80" y2="757.00" stroke="#ff0000" stroke-width="1.2" stroke-linecap="butt"/>
<line x1="977.40" y1="764.40" x2="1025.80" y2="764.40" stroke="#ff0000" stroke-width="1.2" stroke-linecap="butt"/>
<line x1="1003.40" y1="757.00" x2="1003.40" y2="764.40" stroke="#ff0000" stroke-width="1.2" stroke-linecap="butt"/>
<text x="0.98" y="1086.90" font-size="30.38" font-weight="bold" textLength="18.42" lengthAdjust="spacingAndGlyphs" fill="#000">F</text>
<text x="132.91" y="1105.90" font-size="36.48" font-weight="bold" textLength="548.67" lengthAdjust="spacingAndGlyphs" fill="#000">Survival of In Vivo_SKNO1 dCas9</text>
<line x1="128.80" y1="1151.43" x2="128.80" y2="1523.05" stroke="#000" stroke-width="2.5" stroke-linecap="butt"/>
<line x1="127.55" y1="1521.80" x2="685.20" y2="1521.80" stroke="#000" stroke-width="2.5" stroke-linecap="butt"/>
<line x1="121.40" y1="1521.80" x2="128.80" y2="1521.80" stroke="#000" stroke-width="2.5" stroke-linecap="butt"/>
<line x1="124.30" y1="1504.96" x2="128.80" y2="1504.96" stroke="#000" stroke-width="2.2" stroke-linecap="butt"/>
<line x1="124.30" y1="1488.13" x2="128.80" y2="1488.13" stroke="#000" stroke-width="2.2" stroke-linecap="butt"/>
<line x1="124.30" y1="1471.29" x2="128.80" y2="1471.29" stroke="#000" stroke-width="2.2" stroke-linecap="butt"/>
<line x1="124.30" y1="1454.46" x2="128.80" y2="1454.46" stroke="#000" stroke-width="2.2" stroke-linecap="butt"/>
<line x1="124.30" y1="1437.62" x2="128.80" y2="1437.62" stroke="#000" stroke-width="2.2" stroke-linecap="butt"/>
<line x1="124.30" y1="1420.79" x2="128.80" y2="1420.79" stroke="#000" stroke-width="2.2" stroke-linecap="butt"/>
<line x1="124.30" y1="1403.95" x2="128.80" y2="1403.95" stroke="#000" stroke-width="2.2" stroke-linecap="butt"/>
<line x1="124.30" y1="1387.12" x2="128.80" y2="1387.12" stroke="#000" stroke-width="2.2" stroke-linecap="butt"/>
<line x1="124.30" y1="1370.28" x2="128.80" y2="1370.28" stroke="#000" stroke-width="2.2" stroke-linecap="butt"/>
<line x1="121.40" y1="1353.45" x2="128.80" y2="1353.45" stroke="#000" stroke-width="2.5" stroke-linecap="butt"/>
<line x1="124.30" y1="1336.62" x2="128.80" y2="1336.62" stroke="#000" stroke-width="2.2" stroke-linecap="butt"/>
<line x1="124.30" y1="1319.78" x2="128.80" y2="1319.78" stroke="#000" stroke-width="2.2" stroke-linecap="butt"/>
<line x1="124.30" y1="1302.94" x2="128.80" y2="1302.94" stroke="#000" stroke-width="2.2" stroke-linecap="butt"/>
<line x1="124.30" y1="1286.11" x2="128.80" y2="1286.11" stroke="#000" stroke-width="2.2" stroke-linecap="butt"/>
<line x1="124.30" y1="1269.27" x2="128.80" y2="1269.27" stroke="#000" stroke-width="2.2" stroke-linecap="butt"/>
<line x1="124.30" y1="1252.44" x2="128.80" y2="1252.44" stroke="#000" stroke-width="2.2" stroke-linecap="butt"/>
<line x1="124.30" y1="1235.61" x2="128.80" y2="1235.61" stroke="#000" stroke-width="2.2" stroke-linecap="butt"/>
<line x1="124.30" y1="1218.77" x2="128.80" y2="1218.77" stroke="#000" stroke-width="2.2" stroke-linecap="butt"/>
<line x1="124.30" y1="1201.93" x2="128.80" y2="1201.93" stroke="#000" stroke-width="2.2" stroke-linecap="butt"/>
<line x1="121.40" y1="1185.10" x2="128.80" y2="1185.10" stroke="#000" stroke-width="2.5" stroke-linecap="butt"/>
<line x1="124.30" y1="1168.26" x2="128.80" y2="1168.26" stroke="#000" stroke-width="2.2" stroke-linecap="butt"/>
<line x1="124.30" y1="1151.43" x2="128.80" y2="1151.43" stroke="#000" stroke-width="2.2" stroke-linecap="butt"/>
<text x="104.13" y="1532.70" font-size="29.94" font-weight="bold" textLength="15.09" lengthAdjust="spacingAndGlyphs" fill="#000">0</text>
<text x="88.14" y="1364.35" font-size="29.94" font-weight="bold" textLength="31.11" lengthAdjust="spacingAndGlyphs" fill="#000">50</text>
<text x="72.22" y="1196.00" font-size="29.94" font-weight="bold" textLength="47.03" lengthAdjust="spacingAndGlyphs" fill="#000">100</text>
<line x1="128.80" y1="1521.80" x2="128.80" y2="1528.90" stroke="#000" stroke-width="2.5" stroke-linecap="butt"/>
<line x1="142.71" y1="1521.80" x2="142.71" y2="1526.00" stroke="#000" stroke-width="2.2" stroke-linecap="butt"/>
<line x1="156.62" y1="1521.80" x2="156.62" y2="1526.00" stroke="#000" stroke-width="2.2" stroke-linecap="butt"/>
<line x1="170.53" y1="1521.80" x2="170.53" y2="1526.00" stroke="#000" stroke-width="2.2" stroke-linecap="butt"/>
<line x1="184.44" y1="1521.80" x2="184.44" y2="1526.00" stroke="#000" stroke-width="2.2" stroke-linecap="butt"/>
<line x1="198.35" y1="1521.80" x2="198.35" y2="1526.00" stroke="#000" stroke-width="2.2" stroke-linecap="butt"/>
<line x1="212.26" y1="1521.80" x2="212.26" y2="1526.00" stroke="#000" stroke-width="2.2" stroke-linecap="butt"/>
<line x1="226.17" y1="1521.80" x2="226.17" y2="1526.00" stroke="#000" stroke-width="2.2" stroke-linecap="butt"/>
<line x1="240.08" y1="1521.80" x2="240.08" y2="1526.00" stroke="#000" stroke-width="2.2" stroke-linecap="butt"/>
<line x1="253.99" y1="1521.80" x2="253.99" y2="1526.00" stroke="#000" stroke-width="2.2" stroke-linecap="butt"/>
<line x1="267.90" y1="1521.80" x2="267.90" y2="1528.90" stroke="#000" stroke-width="2.5" stroke-linecap="butt"/>
<line x1="281.81" y1="1521.80" x2="281.81" y2="1526.00" stroke="#000" stroke-width="2.2" stroke-linecap="butt"/>
<line x1="295.72" y1="1521.80" x2="295.72" y2="1526.00" stroke="#000" stroke-width="2.2" stroke-linecap="butt"/>
<line x1="309.63" y1="1521.80" x2="309.63" y2="1526.00" stroke="#000" stroke-width="2.2" stroke-linecap="butt"/>
<line x1="323.54" y1="1521.80" x2="323.54" y2="1526.00" stroke="#000" stroke-width="2.2" stroke-linecap="butt"/>
<line x1="337.45" y1="1521.80" x2="337.45" y2="1526.00" stroke="#000" stroke-width="2.2" stroke-linecap="butt"/>
<line x1="351.36" y1="1521.80" x2="351.36" y2="1526.00" stroke="#000" stroke-width="2.2" stroke-linecap="butt"/>
<line x1="365.27" y1="1521.80" x2="365.27" y2="1526.00" stroke="#000" stroke-width="2.2" stroke-linecap="butt"/>
<line x1="379.18" y1="1521.80" x2="379.18" y2="1526.00" stroke="#000" stroke-width="2.2" stroke-linecap="butt"/>
<line x1="393.09" y1="1521.80" x2="393.09" y2="1526.00" stroke="#000" stroke-width="2.2" stroke-linecap="butt"/>
<line x1="407.00" y1="1521.80" x2="407.00" y2="1528.90" stroke="#000" stroke-width="2.5" stroke-linecap="butt"/>
<line x1="420.91" y1="1521.80" x2="420.91" y2="1526.00" stroke="#000" stroke-width="2.2" stroke-linecap="butt"/>
<line x1="434.82" y1="1521.80" x2="434.82" y2="1526.00" stroke="#000" stroke-width="2.2" stroke-linecap="butt"/>
<line x1="448.73" y1="1521.80" x2="448.73" y2="1526.00" stroke="#000" stroke-width="2.2" stroke-linecap="butt"/>
<line x1="462.64" y1="1521.80" x2="462.64" y2="1526.00" stroke="#000" stroke-width="2.2" stroke-linecap="butt"/>
<line x1="476.55" y1="1521.80" x2="476.55" y2="1526.00" stroke="#000" stroke-width="2.2" stroke-linecap="butt"/>
<line x1="490.46" y1="1521.80" x2="490.46" y2="1526.00" stroke="#000" stroke-width="2.2" stroke-linecap="butt"/>
<line x1="504.37" y1="1521.80" x2="504.37" y2="1526.00" stroke="#000" stroke-width="2.2" stroke-linecap="butt"/>
<line x1="518.28" y1="1521.80" x2="518.28" y2="1526.00" stroke="#000" stroke-width="2.2" stroke-linecap="butt"/>
<line x1="532.19" y1="1521.80" x2="532.19" y2="1526.00" stroke="#000" stroke-width="2.2" stroke-linecap="butt"/>
<line x1="546.10" y1="1521.80" x2="546.10" y2="1528.90" stroke="#000" stroke-width="2.5" stroke-linecap="butt"/>
<line x1="560.01" y1="1521.80" x2="560.01" y2="1526.00" stroke="#000" stroke-width="2.2" stroke-linecap="butt"/>
<line x1="573.92" y1="1521.80" x2="573.92" y2="1526.00" stroke="#000" stroke-width="2.2" stroke-linecap="butt"/>
<line x1="587.83" y1="1521.80" x2="587.83" y2="1526.00" stroke="#000" stroke-width="2.2" stroke-linecap="butt"/>
<line x1="601.74" y1="1521.80" x2="601.74" y2="1526.00" stroke="#000" stroke-width="2.2" stroke-linecap="butt"/>
<line x1="615.65" y1="1521.80" x2="615.65" y2="1526.00" stroke="#000" stroke-width="2.2" stroke-linecap="butt"/>
<line x1="629.56" y1="1521.80" x2="629.56" y2="1526.00" stroke="#000" stroke-width="2.2" stroke-linecap="butt"/>
<line x1="643.47" y1="1521.80" x2="643.47" y2="1526.00" stroke="#000" stroke-width="2.2" stroke-linecap="butt"/>
<line x1="657.38" y1="1521.80" x2="657.38" y2="1526.00" stroke="#000" stroke-width="2.2" stroke-linecap="butt"/>
<line x1="671.29" y1="1521.80" x2="671.29" y2="1526.00" stroke="#000" stroke-width="2.2" stroke-linecap="butt"/>
<line x1="685.20" y1="1521.80" x2="685.20" y2="1528.90" stroke="#000" stroke-width="2.5" stroke-linecap="butt"/>
<text x="121.01" y="1558.50" font-size="28.34" font-weight="bold" textLength="15.32" lengthAdjust="spacingAndGlyphs" fill="#000">0</text>
<text x="252.45" y="1558.50" font-size="28.34" font-weight="bold" textLength="30.68" lengthAdjust="spacingAndGlyphs" fill="#000">50</text>
<text x="383.02" y="1558.50" font-size="28.34" font-weight="bold" textLength="47.03" lengthAdjust="spacingAndGlyphs" fill="#000">100</text>
<text x="522.42" y="1558.50" font-size="28.34" font-weight="bold" textLength="47.03" lengthAdjust="spacingAndGlyphs" fill="#000">150</text>
<text x="662.24" y="1558.50" font-size="28.34" font-weight="bold" textLength="46.20" lengthAdjust="spacingAndGlyphs" fill="#000">200</text>
<text x="372.25" y="1597.10" font-size="28.34" font-weight="bold" textLength="69.54" lengthAdjust="spacingAndGlyphs" fill="#000">Days</text>
<text x="-1484.87" y="59.00" font-size="31.10" font-weight="bold" textLength="311.26" lengthAdjust="spacingAndGlyphs" fill="#000" transform="rotate(-90)">Probability of Survival</text>
<path d="M128.8,1185.1 H261.7 V1267.2 H267.7 V1297 H303.9 V1352.8 H317.9 V1381.3 H356.6 V1437.3 H587" stroke="#ff0000" stroke-width="3.2" fill="none" stroke-linejoin="miter" stroke-linecap="butt"/>
<path d="M128.8,1185.1 H231.8 V1212.6 H242.6 V1240.7 H256.6 V1268.9 H262.2 V1380.8 H267.4 V1409.3 H278.7 V1437.7 H295.1 V1465.7 H303.8 V1494 H378.9 V1521.8" stroke="#008000" stroke-width="3.2" fill="none" stroke-linejoin="miter" stroke-linecap="butt"/>
<rect x="230.30" y="1206.60" width="3.00" height="6.00" fill="#000"/>
<rect x="241.10" y="1234.70" width="3.00" height="6.00" fill="#000"/>
<rect x="255.10" y="1262.90" width="3.00" height="6.00" fill="#000"/>
<rect x="260.70" y="1374.80" width="3.00" height="6.00" fill="#000"/>
<rect x="265.90" y="1403.30" width="3.00" height="6.00" fill="#000"/>
<rect x="277.20" y="1431.70" width="3.00" height="6.00" fill="#000"/>
<rect x="293.60" y="1459.70" width="3.00" height="6.00" fill="#000"/>
<rect x="302.30" y="1488.00" width="3.00" height="6.00" fill="#000"/>
<rect x="377.40" y="1515.80" width="3.00" height="6.00" fill="#000"/>
<rect x="260.20" y="1261.20" width="3.00" height="6.00" fill="#000"/>
<rect x="266.20" y="1291.00" width="3.00" height="6.00" fill="#000"/>
<rect x="302.40" y="1346.80" width="3.00" height="6.00" fill="#000"/>
<rect x="316.40" y="1375.30" width="3.00" height="6.00" fill="#000"/>
<rect x="355.10" y="1431.30" width="3.00" height="6.00" fill="#000"/>
<rect x="585.50" y="1432.00" width="3.00" height="6.00" fill="#000"/>
<line x1="399.20" y1="1514.00" x2="559.90" y2="1449.60" stroke="#000" stroke-width="1.8" stroke-linecap="butt"/>
<text x="486.95" y="1498.95" font-size="18.82" font-weight="bold" textLength="6.58" lengthAdjust="spacingAndGlyphs" fill="#000">*</text>
<line x1="493.20" y1="1172.50" x2="516.90" y2="1172.50" stroke="#008000" stroke-width="3.4" stroke-linecap="butt"/>
<rect x="503.20" y="1166.80" width="3.60" height="5.20" fill="#000"/>
<text x="529.48" y="1182.60" font-size="31.25" textLength="273.43" lengthAdjust="spacingAndGlyphs" fill="#000">sgNT SKNO1 dCas9</text>
<line x1="493.20" y1="1215.00" x2="516.90" y2="1215.00" stroke="#ff0000" stroke-width="3.4" stroke-linecap="butt"/>
<rect x="503.20" y="1209.20" width="3.60" height="5.50" fill="#000"/>
<text x="529.48" y="1225.10" font-size="31.25" textLength="342.82" lengthAdjust="spacingAndGlyphs" fill="#000">sgHDAC3- SKNO1 dCas9</text>
<line x1="1154.20" y1="1053.80" x2="1154.20" y2="1414.10" stroke="#000" stroke-width="2" stroke-linecap="butt"/>
<line x1="1153.20" y1="1413.10" x2="1394.60" y2="1413.10" stroke="#000" stroke-width="2" stroke-linecap="butt"/>
<line x1="1141.50" y1="1053.80" x2="1154.20" y2="1053.80" stroke="#000" stroke-width="2" stroke-linecap="butt"/>
<text x="1094.57" y="1063.60" font-size="29.22" font-weight="bold" textLength="45.86" lengthAdjust="spacingAndGlyphs" fill="#000">100</text>
<line x1="1141.50" y1="1143.62" x2="1154.20" y2="1143.62" stroke="#000" stroke-width="2" stroke-linecap="butt"/>
<text x="1109.55" y="1153.42" font-size="29.22" font-weight="bold" textLength="30.89" lengthAdjust="spacingAndGlyphs" fill="#000">10</text>
<line x1="1141.50" y1="1233.45" x2="1154.20" y2="1233.45" stroke="#000" stroke-width="2" stroke-linecap="butt"/>
<text x="1125.54" y="1243.25" font-size="29.22" font-weight="bold" textLength="11.12" lengthAdjust="spacingAndGlyphs" fill="#000">1</text>
<line x1="1141.50" y1="1323.27" x2="1154.20" y2="1323.27" stroke="#000" stroke-width="2" stroke-linecap="butt"/>
<text x="1101.70" y="1333.07" font-size="29.22" font-weight="bold" textLength="35.10" lengthAdjust="spacingAndGlyphs" fill="#000">0.1</text>
<line x1="1141.50" y1="1413.10" x2="1154.20" y2="1413.10" stroke="#000" stroke-width="2" stroke-linecap="butt"/>
<text x="1086.89" y="1422.90" font-size="29.22" font-weight="bold" textLength="49.93" lengthAdjust="spacingAndGlyphs" fill="#000">0.01</text>
<line x1="1222.60" y1="1413.10" x2="1222.60" y2="1425.40" stroke="#000" stroke-width="2" stroke-linecap="butt"/>
<line x1="1325.20" y1="1413.10" x2="1325.20" y2="1425.40" stroke="#000" stroke-width="2" stroke-linecap="butt"/>
<path d="M1221.3,1058.9 V1038.7 H1328.3 V1069.4" stroke="#000" stroke-width="2" fill="none" stroke-linejoin="round" stroke-linecap="butt"/>
<text x="1270.14" y="1034.89" font-size="23.39" font-weight="bold" textLength="8.17" lengthAdjust="spacingAndGlyphs" fill="#000">*</text>
<text x="1280.35" y="1034.89" font-size="23.39" font-weight="bold" textLength="8.17" lengthAdjust="spacingAndGlyphs" fill="#000">*</text>
<text x="-1309.87" y="1010.50" font-size="29.80" font-weight="bold" textLength="173.64" lengthAdjust="spacingAndGlyphs" fill="#000" transform="rotate(-90)">hCD45-  APC</text>
<text x="-1323.32" y="1043.50" font-size="29.80" font-weight="bold" textLength="201.54" lengthAdjust="spacingAndGlyphs" fill="#000" transform="rotate(-90)">cells in BM (%)</text>
<g transform="translate(1230.50,1451.00) rotate(-45)"><text x="-257.95" y="0.00" font-size="27.91" font-weight="bold" textLength="258.96" lengthAdjust="spacingAndGlyphs" fill="#000">sgNT-SKNO1 dCas9</text></g>
<g transform="translate(1334.00,1450.00) rotate(-45)"><text x="-326.97" y="0.00" font-size="27.91" font-weight="bold" textLength="327.98" lengthAdjust="spacingAndGlyphs" fill="#000">sgHDAC3- SKNO1 dCas9</text></g>
<circle cx="1222.60" cy="1085.10" r="4.60" fill="#008000"/>
<circle cx="1205.30" cy="1096.10" r="4.60" fill="#008000"/>
<circle cx="1222.60" cy="1102.10" r="4.60" fill="#008000"/>
<circle cx="1239.90" cy="1100.00" r="4.60" fill="#008000"/>
<circle cx="1214.00" cy="1123.60" r="4.60" fill="#008000"/>
<circle cx="1231.20" cy="1123.60" r="4.60" fill="#008000"/>
<circle cx="1222.60" cy="1134.80" r="4.60" fill="#008000"/>
<circle cx="1205.30" cy="1164.40" r="4.60" fill="#008000"/>
<circle cx="1239.90" cy="1165.70" r="4.60" fill="#008000"/>
<circle cx="1222.60" cy="1172.30" r="4.60" fill="#008000"/>
<circle cx="1214.00" cy="1210.20" r="4.60" fill="#008000"/>
<circle cx="1231.20" cy="1206.80" r="4.60" fill="#008000"/>
<rect x="1312.30" y="1087.30" width="8.60" height="8.60" fill="#ff0000"/>
<rect x="1329.50" y="1083.40" width="8.60" height="8.60" fill="#ff0000"/>
<rect x="1320.90" y="1125.80" width="8.60" height="8.60" fill="#ff0000"/>
<rect x="1320.90" y="1215.10" width="8.60" height="8.60" fill="#ff0000"/>
<rect x="1329.50" y="1233.10" width="8.60" height="8.60" fill="#ff0000"/>
<rect x="1312.30" y="1241.30" width="8.60" height="8.60" fill="#ff0000"/>
<rect x="1329.50" y="1274.50" width="8.60" height="8.60" fill="#ff0000"/>
<rect x="1312.30" y="1279.70" width="8.60" height="8.60" fill="#ff0000"/>
<rect x="1320.90" y="1300.70" width="8.60" height="8.60" fill="#ff0000"/>
<rect x="1312.30" y="1338.70" width="8.60" height="8.60" fill="#ff0000"/>
<rect x="1329.50" y="1338.70" width="8.60" height="8.60" fill="#ff0000"/>
<rect x="1320.90" y="1365.60" width="8.60" height="8.60" fill="#ff0000"/>
<line x1="1188.50" y1="1122.50" x2="1256.60" y2="1122.50" stroke="#000" stroke-width="1.6" stroke-linecap="butt"/>
<line x1="1205.30" y1="1114.40" x2="1239.90" y2="1114.40" stroke="#008000" stroke-width="1.6" stroke-linecap="butt"/>
<line x1="1205.30" y1="1134.00" x2="1239.90" y2="1134.00" stroke="#008000" stroke-width="1.6" stroke-linecap="butt"/>
<line x1="1222.60" y1="1114.40" x2="1222.60" y2="1134.00" stroke="#008000" stroke-width="1.6" stroke-linecap="butt"/>
<line x1="1291.20" y1="1151.30" x2="1359.80" y2="1151.30" stroke="#000" stroke-width="1.6" stroke-linecap="butt"/>
<line x1="1308.20" y1="1134.60" x2="1342.20" y2="1134.60" stroke="#ff0000" stroke-width="1.6" stroke-linecap="butt"/>
<line x1="1308.20" y1="1182.00" x2="1342.20" y2="1182.00" stroke="#ff0000" stroke-width="1.6" stroke-linecap="butt"/>
<line x1="1325.20" y1="1134.60" x2="1325.20" y2="1182.00" stroke="#ff0000" stroke-width="1.6" stroke-linecap="butt"/>
<text x="-1.21" y="1818.50" font-size="29.94" font-weight="bold" textLength="22.94" lengthAdjust="spacingAndGlyphs" fill="#000">G</text>
<text x="79.41" y="1813.80" font-size="32.41" font-weight="bold" textLength="598.85" lengthAdjust="spacingAndGlyphs" fill="#000">Survival of In vivo_survival_THP1 dCas9</text>
<line x1="129.70" y1="1853.10" x2="129.70" y2="2187.20" stroke="#000" stroke-width="2.4" stroke-linecap="butt"/>
<line x1="128.50" y1="2186.00" x2="628.60" y2="2186.00" stroke="#000" stroke-width="2.4" stroke-linecap="butt"/>
<line x1="117.20" y1="2186.00" x2="129.70" y2="2186.00" stroke="#000" stroke-width="2.4" stroke-linecap="butt"/>
<line x1="123.20" y1="2170.95" x2="129.70" y2="2170.95" stroke="#000" stroke-width="2.1" stroke-linecap="butt"/>
<line x1="123.20" y1="2155.91" x2="129.70" y2="2155.91" stroke="#000" stroke-width="2.1" stroke-linecap="butt"/>
<line x1="123.20" y1="2140.86" x2="129.70" y2="2140.86" stroke="#000" stroke-width="2.1" stroke-linecap="butt"/>
<line x1="123.20" y1="2125.82" x2="129.70" y2="2125.82" stroke="#000" stroke-width="2.1" stroke-linecap="butt"/>
<line x1="123.20" y1="2110.78" x2="129.70" y2="2110.78" stroke="#000" stroke-width="2.1" stroke-linecap="butt"/>
<line x1="123.20" y1="2095.73" x2="129.70" y2="2095.73" stroke="#000" stroke-width="2.1" stroke-linecap="butt"/>
<line x1="123.20" y1="2080.68" x2="129.70" y2="2080.68" stroke="#000" stroke-width="2.1" stroke-linecap="butt"/>
<line x1="123.20" y1="2065.64" x2="129.70" y2="2065.64" stroke="#000" stroke-width="2.1" stroke-linecap="butt"/>
<line x1="123.20" y1="2050.59" x2="129.70" y2="2050.59" stroke="#000" stroke-width="2.1" stroke-linecap="butt"/>
<line x1="117.20" y1="2035.55" x2="129.70" y2="2035.55" stroke="#000" stroke-width="2.4" stroke-linecap="butt"/>
<line x1="123.20" y1="2020.50" x2="129.70" y2="2020.50" stroke="#000" stroke-width="2.1" stroke-linecap="butt"/>
<line x1="123.20" y1="2005.46" x2="129.70" y2="2005.46" stroke="#000" stroke-width="2.1" stroke-linecap="butt"/>
<line x1="123.20" y1="1990.41" x2="129.70" y2="1990.41" stroke="#000" stroke-width="2.1" stroke-linecap="butt"/>
<line x1="123.20" y1="1975.37" x2="129.70" y2="1975.37" stroke="#000" stroke-width="2.1" stroke-linecap="butt"/>
<line x1="123.20" y1="1960.32" x2="129.70" y2="1960.32" stroke="#000" stroke-width="2.1" stroke-linecap="butt"/>
<line x1="123.20" y1="1945.28" x2="129.70" y2="1945.28" stroke="#000" stroke-width="2.1" stroke-linecap="butt"/>
<line x1="123.20" y1="1930.23" x2="129.70" y2="1930.23" stroke="#000" stroke-width="2.1" stroke-linecap="butt"/>
<line x1="123.20" y1="1915.19" x2="129.70" y2="1915.19" stroke="#000" stroke-width="2.1" stroke-linecap="butt"/>
<line x1="123.20" y1="1900.14" x2="129.70" y2="1900.14" stroke="#000" stroke-width="2.1" stroke-linecap="butt"/>
<line x1="117.20" y1="1885.10" x2="129.70" y2="1885.10" stroke="#000" stroke-width="2.4" stroke-linecap="butt"/>
<line x1="123.20" y1="1870.05" x2="129.70" y2="1870.05" stroke="#000" stroke-width="2.1" stroke-linecap="butt"/>
<line x1="123.20" y1="1855.01" x2="129.70" y2="1855.01" stroke="#000" stroke-width="2.1" stroke-linecap="butt"/>
<text x="100.80" y="2195.70" font-size="25.58" font-weight="bold" textLength="14.03" lengthAdjust="spacingAndGlyphs" fill="#000">0</text>
<text x="86.93" y="2045.25" font-size="25.58" font-weight="bold" textLength="27.90" lengthAdjust="spacingAndGlyphs" fill="#000">50</text>
<text x="71.98" y="1894.80" font-size="25.58" font-weight="bold" textLength="42.87" lengthAdjust="spacingAndGlyphs" fill="#000">100</text>
<line x1="129.70" y1="2186.00" x2="129.70" y2="2199.30" stroke="#000" stroke-width="2.4" stroke-linecap="butt"/>
<line x1="146.30" y1="2186.00" x2="146.30" y2="2193.30" stroke="#000" stroke-width="2.1" stroke-linecap="butt"/>
<line x1="162.90" y1="2186.00" x2="162.90" y2="2193.30" stroke="#000" stroke-width="2.1" stroke-linecap="butt"/>
<line x1="179.50" y1="2186.00" x2="179.50" y2="2193.30" stroke="#000" stroke-width="2.1" stroke-linecap="butt"/>
<line x1="196.10" y1="2186.00" x2="196.10" y2="2193.30" stroke="#000" stroke-width="2.1" stroke-linecap="butt"/>
<line x1="212.70" y1="2186.00" x2="212.70" y2="2193.30" stroke="#000" stroke-width="2.1" stroke-linecap="butt"/>
<line x1="229.30" y1="2186.00" x2="229.30" y2="2193.30" stroke="#000" stroke-width="2.1" stroke-linecap="butt"/>
<line x1="245.90" y1="2186.00" x2="245.90" y2="2193.30" stroke="#000" stroke-width="2.1" stroke-linecap="butt"/>
<line x1="262.50" y1="2186.00" x2="262.50" y2="2193.30" stroke="#000" stroke-width="2.1" stroke-linecap="butt"/>
<line x1="279.10" y1="2186.00" x2="279.10" y2="2193.30" stroke="#000" stroke-width="2.1" stroke-linecap="butt"/>
<line x1="295.70" y1="2186.00" x2="295.70" y2="2199.30" stroke="#000" stroke-width="2.4" stroke-linecap="butt"/>
<line x1="312.30" y1="2186.00" x2="312.30" y2="2193.30" stroke="#000" stroke-width="2.1" stroke-linecap="butt"/>
<line x1="328.90" y1="2186.00" x2="328.90" y2="2193.30" stroke="#000" stroke-width="2.1" stroke-linecap="butt"/>
<line x1="345.50" y1="2186.00" x2="345.50" y2="2193.30" stroke="#000" stroke-width="2.1" stroke-linecap="butt"/>
<line x1="362.10" y1="2186.00" x2="362.10" y2="2193.30" stroke="#000" stroke-width="2.1" stroke-linecap="butt"/>
<line x1="378.70" y1="2186.00" x2="378.70" y2="2193.30" stroke="#000" stroke-width="2.1" stroke-linecap="butt"/>
<line x1="395.30" y1="2186.00" x2="395.30" y2="2193.30" stroke="#000" stroke-width="2.1" stroke-linecap="butt"/>
<line x1="411.90" y1="2186.00" x2="411.90" y2="2193.30" stroke="#000" stroke-width="2.1" stroke-linecap="butt"/>
<line x1="428.50" y1="2186.00" x2="428.50" y2="2193.30" stroke="#000" stroke-width="2.1" stroke-linecap="butt"/>
<line x1="445.10" y1="2186.00" x2="445.10" y2="2193.30" stroke="#000" stroke-width="2.1" stroke-linecap="butt"/>
<line x1="461.70" y1="2186.00" x2="461.70" y2="2199.30" stroke="#000" stroke-width="2.4" stroke-linecap="butt"/>
<line x1="478.30" y1="2186.00" x2="478.30" y2="2193.30" stroke="#000" stroke-width="2.1" stroke-linecap="butt"/>
<line x1="494.90" y1="2186.00" x2="494.90" y2="2193.30" stroke="#000" stroke-width="2.1" stroke-linecap="butt"/>
<line x1="511.50" y1="2186.00" x2="511.50" y2="2193.30" stroke="#000" stroke-width="2.1" stroke-linecap="butt"/>
<line x1="528.10" y1="2186.00" x2="528.10" y2="2193.30" stroke="#000" stroke-width="2.1" stroke-linecap="butt"/>
<line x1="544.70" y1="2186.00" x2="544.70" y2="2193.30" stroke="#000" stroke-width="2.1" stroke-linecap="butt"/>
<line x1="561.30" y1="2186.00" x2="561.30" y2="2193.30" stroke="#000" stroke-width="2.1" stroke-linecap="butt"/>
<line x1="577.90" y1="2186.00" x2="577.90" y2="2193.30" stroke="#000" stroke-width="2.1" stroke-linecap="butt"/>
<line x1="594.50" y1="2186.00" x2="594.50" y2="2193.30" stroke="#000" stroke-width="2.1" stroke-linecap="butt"/>
<line x1="611.10" y1="2186.00" x2="611.10" y2="2193.30" stroke="#000" stroke-width="2.1" stroke-linecap="butt"/>
<line x1="627.70" y1="2186.00" x2="627.70" y2="2199.30" stroke="#000" stroke-width="2.4" stroke-linecap="butt"/>
<text x="122.49" y="2225.50" font-size="25.58" font-weight="bold" textLength="14.15" lengthAdjust="spacingAndGlyphs" fill="#000">0</text>
<text x="281.73" y="2225.50" font-size="25.58" font-weight="bold" textLength="27.69" lengthAdjust="spacingAndGlyphs" fill="#000">50</text>
<text x="440.19" y="2225.50" font-size="25.58" font-weight="bold" textLength="42.66" lengthAdjust="spacingAndGlyphs" fill="#000">100</text>
<text x="606.00" y="2225.50" font-size="25.58" font-weight="bold" textLength="42.45" lengthAdjust="spacingAndGlyphs" fill="#000">150</text>
<text x="346.39" y="2261.70" font-size="27.33" font-weight="bold" textLength="64.51" lengthAdjust="spacingAndGlyphs" fill="#000">Days</text>
<text x="-2152.46" y="60.90" font-size="28.49" font-weight="bold" textLength="278.23" lengthAdjust="spacingAndGlyphs" fill="#000" transform="rotate(-90)">Probability of Survival</text>
<path d="M129.7,1885.1 H361.8 V1945.3 H371.7 V1975.4 H385.3 V2065.6 H395.1 V2095.7 H408.4 V2125.8 H457.8 V2155.9 H547.8" stroke="#ff0000" stroke-width="3.6" fill="none" stroke-linejoin="miter" stroke-linecap="butt"/>
<path d="M129.7,1885.1 H322 V1915.2 H361.8 V1945.3 H378.6 V1975.4 H385.3 V2005.5 H395.1 V2065.6 H408.4 V2125.8 H457.8 V2155.9 H491.2 V2186" stroke="#008000" stroke-width="3.6" fill="none" stroke-linejoin="miter" stroke-linecap="butt"/>
<rect x="318.70" y="1908.30" width="6.60" height="6.60" fill="#000"/>
<rect x="358.50" y="1938.40" width="6.60" height="6.60" fill="#000"/>
<rect x="375.30" y="1968.50" width="6.60" height="6.60" fill="#000"/>
<rect x="382.00" y="1998.60" width="6.60" height="6.60" fill="#000"/>
<rect x="391.80" y="2058.70" width="6.60" height="6.60" fill="#000"/>
<rect x="405.10" y="2118.90" width="6.60" height="6.60" fill="#000"/>
<rect x="454.50" y="2149.00" width="6.60" height="6.60" fill="#000"/>
<rect x="487.90" y="2179.10" width="6.60" height="6.60" fill="#000"/>
<rect x="368.40" y="1968.50" width="6.60" height="6.60" fill="#000"/>
<rect x="382.00" y="2058.70" width="6.60" height="6.60" fill="#000"/>
<rect x="391.80" y="2088.80" width="6.60" height="6.60" fill="#000"/>
<rect x="544.50" y="2149.00" width="6.60" height="6.60" fill="#000"/>
<line x1="605.90" y1="1873.20" x2="626.10" y2="1873.20" stroke="#008000" stroke-width="3.6" stroke-linecap="butt"/>
<rect x="613.00" y="1866.80" width="6.10" height="6.20" fill="#000"/>
<text x="637.05" y="1882.80" font-size="27.62" textLength="227.12" lengthAdjust="spacingAndGlyphs" fill="#000">sgNT-THP1 dCas9</text>
<line x1="605.90" y1="1911.20" x2="626.10" y2="1911.20" stroke="#ff0000" stroke-width="3.6" stroke-linecap="butt"/>
<rect x="613.00" y="1904.90" width="6.10" height="6.20" fill="#000"/>
<text x="637.05" y="1920.80" font-size="27.62" textLength="282.82" lengthAdjust="spacingAndGlyphs" fill="#000">sgHDAC3-THP1 dCas9</text>
<text x="1125.18" y="1782.30" font-size="33.87" font-weight="bold" textLength="302.49" lengthAdjust="spacingAndGlyphs" fill="#000">In vivo_THP1 dCas9</text>
<line x1="1163.30" y1="1822.90" x2="1163.30" y2="2167.80" stroke="#000" stroke-width="2.2" stroke-linecap="butt"/>
<line x1="1162.20" y1="2166.70" x2="1390.00" y2="2166.70" stroke="#000" stroke-width="2.2" stroke-linecap="butt"/>
<line x1="1158.60" y1="1822.90" x2="1163.30" y2="1822.90" stroke="#000" stroke-width="2.2" stroke-linecap="butt"/>
<text x="1114.38" y="1832.60" font-size="27.47" font-weight="bold" textLength="42.87" lengthAdjust="spacingAndGlyphs" fill="#000">100</text>
<line x1="1158.60" y1="1937.50" x2="1163.30" y2="1937.50" stroke="#000" stroke-width="2.2" stroke-linecap="butt"/>
<text x="1128.68" y="1947.20" font-size="27.47" font-weight="bold" textLength="28.57" lengthAdjust="spacingAndGlyphs" fill="#000">10</text>
<line x1="1158.60" y1="2052.10" x2="1163.30" y2="2052.10" stroke="#000" stroke-width="2.2" stroke-linecap="butt"/>
<text x="1143.08" y="2061.80" font-size="27.47" font-weight="bold" textLength="10.76" lengthAdjust="spacingAndGlyphs" fill="#000">1</text>
<line x1="1158.60" y1="2166.70" x2="1163.30" y2="2166.70" stroke="#000" stroke-width="2.2" stroke-linecap="butt"/>
<text x="1121.48" y="2176.40" font-size="27.47" font-weight="bold" textLength="32.47" lengthAdjust="spacingAndGlyphs" fill="#000">0.1</text>
<line x1="1228.00" y1="2166.70" x2="1228.00" y2="2171.40" stroke="#000" stroke-width="2.2" stroke-linecap="butt"/>
<line x1="1324.60" y1="2166.70" x2="1324.60" y2="2171.40" stroke="#000" stroke-width="2.2" stroke-linecap="butt"/>
<text x="-2062.72" y="1047.60" font-size="27.03" font-weight="bold" textLength="151.99" lengthAdjust="spacingAndGlyphs" fill="#000" transform="rotate(-90)">hCD45-  APC</text>
<text x="-2077.17" y="1076.20" font-size="27.03" font-weight="bold" textLength="182.13" lengthAdjust="spacingAndGlyphs" fill="#000" transform="rotate(-90)">cells (%) in  BM</text>
<g transform="translate(1237.00,2196.00) rotate(-45)"><text x="-222.91" y="0.00" font-size="26.89" font-weight="bold" textLength="223.87" lengthAdjust="spacingAndGlyphs" fill="#000">sgNT-THP1 dCas9</text></g>
<g transform="translate(1333.00,2196.00) rotate(-45)"><text x="-278.91" y="0.00" font-size="26.89" font-weight="bold" textLength="279.88" lengthAdjust="spacingAndGlyphs" fill="#000">sgHDAC3-THP1 dCas9</text></g>
<line x1="1196.10" y1="1888.80" x2="1260.00" y2="1888.80" stroke="#222" stroke-width="2.2" stroke-linecap="butt"/>
<line x1="1211.90" y1="1875.70" x2="1244.10" y2="1875.70" stroke="#1f8a1f" stroke-width="1.9" stroke-linecap="butt"/>
<line x1="1211.90" y1="1906.90" x2="1244.10" y2="1906.90" stroke="#1f8a1f" stroke-width="1.9" stroke-linecap="butt"/>
<line x1="1227.90" y1="1875.70" x2="1227.90" y2="1906.90" stroke="#1f8a1f" stroke-width="1.9" stroke-linecap="butt"/>
<circle cx="1227.90" cy="1831.00" r="4.95" fill="#008000"/>
<circle cx="1227.90" cy="1866.40" r="4.95" fill="#008000"/>
<circle cx="1227.90" cy="1888.70" r="4.95" fill="#008000"/>
<circle cx="1209.40" cy="1903.30" r="4.95" fill="#008000"/>
<circle cx="1227.90" cy="1906.90" r="4.95" fill="#008000"/>
<circle cx="1209.40" cy="1915.20" r="4.95" fill="#008000"/>
<circle cx="1227.90" cy="1923.90" r="4.95" fill="#008000"/>
<circle cx="1246.50" cy="1922.70" r="4.95" fill="#008000"/>
<circle cx="1227.90" cy="1974.90" r="4.95" fill="#008000"/>
<line x1="1292.00" y1="1919.90" x2="1357.00" y2="1919.90" stroke="#222" stroke-width="2.2" stroke-linecap="butt"/>
<rect x="1319.35" y="1852.15" width="9.90" height="9.90" fill="#ff0000"/>
<rect x="1319.35" y="1876.05" width="9.90" height="9.90" fill="#ff0000"/>
<rect x="1319.35" y="1907.05" width="9.90" height="9.90" fill="#ff0000"/>
<rect x="1319.35" y="1930.05" width="9.90" height="9.90" fill="#ff0000"/>
<rect x="1319.35" y="1939.45" width="9.90" height="9.90" fill="#ff0000"/>
<rect x="1319.35" y="1955.35" width="9.90" height="9.90" fill="#ff0000"/>
<rect x="1309.95" y="2018.35" width="9.90" height="9.90" fill="#ff0000"/>
<rect x="1328.85" y="2024.85" width="9.90" height="9.90" fill="#ff0000"/>
<rect x="1319.35" y="2040.05" width="9.90" height="9.90" fill="#ff0000"/>
<line x1="1308.00" y1="1903.70" x2="1340.70" y2="1903.70" stroke="#ff0000" stroke-width="1.9" stroke-linecap="butt"/>
<line x1="1308.00" y1="1944.30" x2="1340.70" y2="1944.30" stroke="#ff0000" stroke-width="1.9" stroke-linecap="butt"/>
<line x1="1324.30" y1="1903.70" x2="1324.30" y2="1944.30" stroke="#ff0000" stroke-width="1.9" stroke-linecap="butt"/>
</svg>
</body></html>
